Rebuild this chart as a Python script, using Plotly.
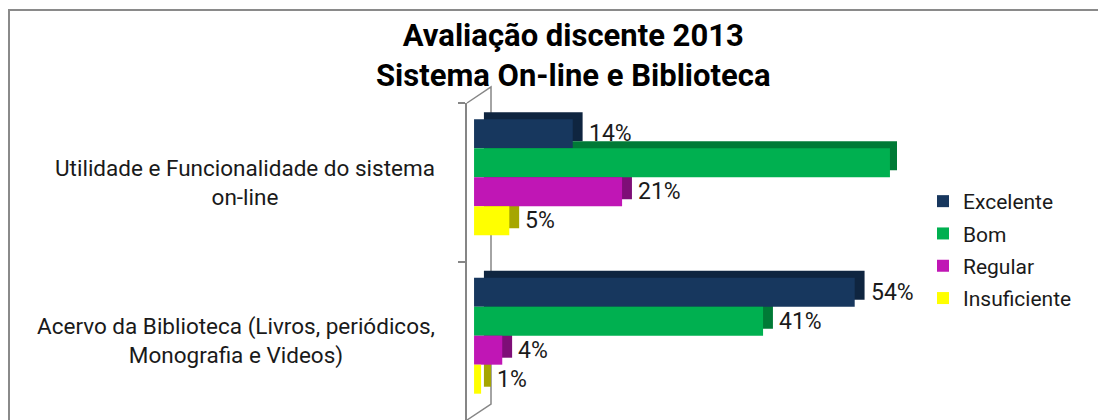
import plotly.graph_objects as go

# ---- data ----
categories = [
    "Utilidade e Funcionalidade do sistema<br>on-line",
    "Acervo da Biblioteca (Livros, periódicos,<br>Monografia e Videos)",
]
series_names = ["Excelente", "Bom", "Regular", "Insuficiente"]
excelente = [14, 54]
bom = [59, 41]
regular = [21, 4]
insuficiente = [5, 1]
title_lines = ["Avaliação discente 2013", "Sistema On-line e Biblioteca"]

# ---- styles ----
PAGE_OFF = 8                 # default body margin of the html page
W, H = 1106 - PAGE_OFF, 420 - PAGE_OFF
front_colors = ["#17375E", "#00B050", "#C016B5", "#FFFF00"]
side_colors = ["#0F2540", "#007A36", "#7E0E77", "#A6A600"]
FONT = "Roboto, 'Open Sans', Arial, sans-serif"
GRAY = "#868686"

values = [excelente, bom, regular, insuficiente]
off0, bw = -0.398, 0.183      # bar offset / width in category units
dx, dy = 1.4, 0.044           # pseudo-3D depth (x units, category units)

def px(x):
    """page pixel x -> paper fraction"""
    return (x - PAGE_OFF) / W

def py(y):
    """page pixel y -> paper fraction"""
    return 1 - (y - PAGE_OFF) / H

fig = go.Figure()

# back (depth) faces first
for i, (name, vals) in enumerate(zip(series_names, values)):
    fig.add_trace(go.Bar(
        y=categories, x=vals, base=dx, orientation="h",
        offset=off0 + i * bw - dy, width=bw,
        marker=dict(color=side_colors[i], line=dict(width=0)),
        showlegend=False, hoverinfo="skip", legendgroup=name,
    ))
# front faces
for i, (name, vals) in enumerate(zip(series_names, values)):
    fig.add_trace(go.Bar(
        y=categories, x=vals, orientation="h", name=name,
        offset=off0 + i * bw, width=bw,
        marker=dict(color=front_colors[i], line=dict(width=0)),
        legendgroup=name,
    ))

annotations = []
# value labels
for i, vals in enumerate(values):
    for ci, v in enumerate(vals):
        annotations.append(dict(
            x=v + dx, y=ci + off0 + i * bw + bw / 2, xref="x", yref="y",
            text=f"{v}%", showarrow=False, xanchor="left", yanchor="middle",
            xshift=4, font=dict(family=FONT, size=23, color="#1a1a1a"),
        ))
# category labels
for ci, cat in enumerate(categories):
    annotations.append(dict(
        x=px(437), y=ci, xref="paper", yref="y", text=cat, showarrow=False,
        xanchor="right", yanchor="middle", align="center",
        font=dict(family=FONT, size=22.5, color="#1a1a1a"),
    ))
# title
annotations.append(dict(
    x=px(573), y=py(56), xref="paper", yref="paper",
    text="<b>" + "<br>".join(title_lines) + "</b>", showarrow=False,
    xanchor="center", yanchor="middle", align="center",
    font=dict(family=FONT, size=31, color="#000000"),
))

shapes = [
    # chart border (left + top)
    dict(type="path", xref="paper", yref="paper",
         path=f"M {px(9)} {py(430)} L {px(9)} {py(10)} L {px(1120)} {py(10)}",
         line=dict(color="#8A8A8A", width=2), layer="above"),
    # 3D wall outline
    dict(type="path", xref="paper", yref="paper",
         path=(f"M {px(467)} {py(103)} L {px(491)} {py(87)} L {px(491)} {py(404)} "
               f"L {px(467)} {py(420)}"),
         line=dict(color=GRAY, width=1.5), layer="below"),
]

fig.update_layout(
    width=W, height=H,
    margin=dict(l=0, r=0, t=0, b=0),
    paper_bgcolor="white", plot_bgcolor="rgba(0,0,0,0)",
    barmode="overlay",
    font=dict(family=FONT, color="#1a1a1a"),
    xaxis=dict(range=[-1, 60], domain=[px(467), px(897)], visible=False,
               showgrid=False, zeroline=False),
    yaxis=dict(type="category", range=[1.5, -0.5], autorange=False,
               domain=[0, py(103)], showline=True, linecolor=GRAY, linewidth=1.5,
               ticks="outside", tickson="boundaries", ticklen=7, tickcolor=GRAY,
               tickwidth=1.5, showticklabels=False, showgrid=False, zeroline=False),
    legend=dict(x=px(923), y=py(181), xanchor="left", yanchor="top",
                font=dict(family=FONT, size=21, color="#1a1a1a"),
                traceorder="grouped", tracegroupgap=2, bgcolor="rgba(0,0,0,0)"),
    annotations=annotations,
    shapes=shapes,
)

fig.write_html("out.html")
